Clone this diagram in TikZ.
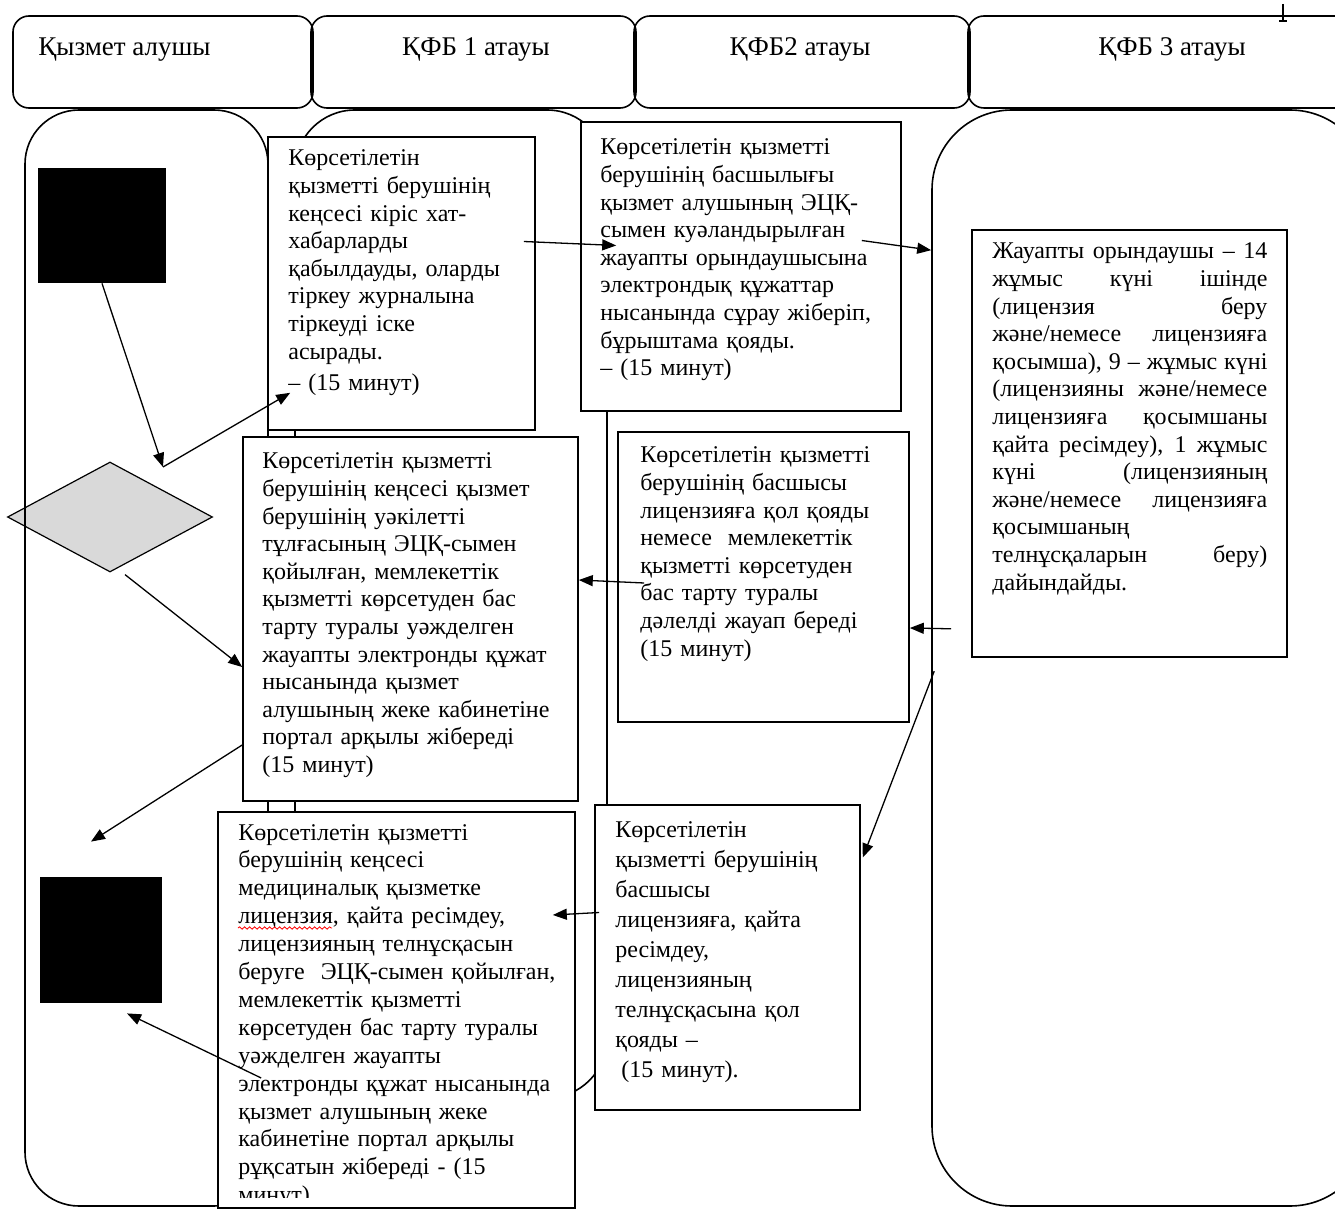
\documentclass[tikz,border=0pt]{standalone}
\usepackage{fontspec}
\setmainfont{Liberation Serif}
\usepackage{tikz}
\usetikzlibrary{shapes.geometric, arrows.meta, calc, fit, decorations.pathmorphing}

\newcommand{\justline}[1]{\makebox[137.5pt][s]{\spaceskip=.25em plus 1fil\relax #1}\\}

\begin{document}
\begin{tikzpicture}[x=0.5pt, y=-0.5pt,
    lane/.style={draw, line width=0.8pt, inner sep=0pt},
    head/.style={draw, line width=0.8pt, inner sep=0pt, rounded corners=8pt},
    headtxt/.style={anchor=base, inner sep=0pt, font=\fontsize{13.5}{15}\selectfont},
    stepbox/.style={draw, fill=white, line width=0.8pt, inner sep=0pt},
    blk/.style={fill=black, inner sep=0pt},
    txt/.style={anchor=base west, inner sep=0pt, align=left, font=\fontsize{12}{13.8}\selectfont},
    arr/.style={-{Triangle[length=7pt, width=5.5pt]}, line width=0.65pt}]

\path[use as bounding box, clip] (0,0) rectangle (1335,1209);

% decision, under the lane line
\node[diamond, draw, fill=black!15, line width=0.6pt, inner sep=0pt,
      minimum width=102.5pt, minimum height=55pt] (dec) at (110,517) {};

% lanes
\node[lane, rounded corners=27pt, fit={(25,110) (268,1206)}] (L1) {};
\node[lane, rounded corners=30pt, fit={(295,110) (607,1098)}] (L2) {};
\node[lane, rounded corners=40pt, fit={(932,110) (1370,1206)}] (L4) {};

\node[head, fit={(13,16) (313,108)}] (h1) {};
\node[head, fit={(311,16) (636,108)}] (h2) {};
\node[head, fit={(634,16) (970,108)}] (h3) {};
\node[head, fit={(968,16) (1385,108)}] (h4) {};
\node[headtxt, anchor=base west] (t1) at (38,56) {Қызмет алушы};
\node[headtxt] (t2) at (476,56) {ҚФБ 1 атауы};
\node[headtxt] (t3) at (800,56) {ҚФБ2 атауы};
\node[headtxt] (t4) at (1172,56) {ҚФБ 3 атауы};
\draw[line width=0.6pt] (1283,4) -- (1283,21);
\draw[line width=0.6pt] (1279,21) -- (1287,21);

\node[blk, fit={(38,168) (166,283)}] (start) {};
\node[blk, fit={(40,877) (162,1003)}] (stop) {};
\coordinate (P) at (163,467);

\node[stepbox, fit={(268,137) (535,430)}] (boxA) {};
\node[txt, text width=122pt] (tA) at (288,166) {Көрсетілетін\\ қызметті берушінің\\ кеңсесі кіріс хат-\\
    хабарларды\\ қабылдауды, оларды\\ тіркеу журналына\\ тіркеуді іске\\ асырады.\\[2pt]
    – (15 минут)};

\node[stepbox, fit={(581,122) (901,411)}] (boxB) {};
\node[txt, text width=150pt] (tB) at (600,155) {Көрсетілетін қызметті\\ берушінің басшылығы\\ қызмет алушының ЭЦҚ-\\
    сымен куәландырылған\\ жауапты орындаушысына\\ электрондық құжаттар\\
    нысанында сұрау жіберіп,\\ бұрыштама қояды.\\ – (15 минут)};

\node[stepbox, fit={(972,230) (1287,657)}] (boxC) {};
\node[txt, text width=137.5pt] (tC) at (992,259) {\justline{Жауапты орындаушы – 14}
    \justline{жұмыс күні ішінде}\justline{(лицензия беру}\justline{және/немесе лицензияға}
    \justline{қосымша), 9 – жұмыс күні}\justline{(лицензияны және/немесе}
    \justline{лицензияға қосымшаны}\justline{қайта ресімдеу), 1 жұмыс}
    \justline{күні (лицензияның}\justline{және/немесе лицензияға}қосымшаның\\
    \justline{телнұсқаларын беру)}дайындайды.};

\node[stepbox, fit={(243,437) (578,801)}] (boxD) {};
\node[txt, text width=155pt] (tD) at (262,469) {Көрсетілетін қызметті\\ берушінің кеңсесі қызмет\\
    берушінің уәкілетті\\ тұлғасының ЭЦҚ-сымен\\ қойылған, мемлекеттік\\
    қызметті көрсетуден бас\\ тарту туралы уәжделген\\ жауапты электронды құжат\\
    нысанында қызмет\\ алушының жеке кабинетіне\\ портал арқылы жібереді\\ (15 минут)};

\node[stepbox, fit={(618,432) (909,722)}] (boxE) {};
\node[txt, text width=132pt] (tE) at (640,463) {Көрсетілетін қызметті\\ берушінің басшысы\\
    лицензияға қол қояды\\ немесе \ мемлекеттік\\ қызметті көрсетуден\\
    бас тарту туралы\\ дәлелді жауап береді\\ (15 минут)};

\node[stepbox, fit={(218,812) (575,1208)}] (boxF) {};
\begin{scope}
\clip (220,814) rectangle (573,1197);
\node[txt, text width=166pt, font=\fontsize{12}{13.95}\selectfont] (tF) at (238,840) {Көрсетілетін қызметті\\
    берушінің кеңсесі\\ медициналық қызметке\\ лицензия, қайта ресімдеу,\\
    лицензияның телнұсқасын\\ беруге \ ЭЦҚ-сымен қойылған,\\ мемлекеттік қызметті\\
    көрсетуден бас тарту туралы\\ уәжделген жауапты\\ электронды құжат нысанында\\
    қызмет алушының жеке\\ кабинетіне портал арқылы\\ рұқсатын жібереді - (15\\ минут)};
\end{scope}
\draw[red, line width=0.4pt, decorate, decoration={snake, amplitude=0.6pt, segment length=2.5pt}]
    (238,928) -- (332,928);

\node[stepbox, fit={(595,805) (860,1110)}] (boxG) {};
\node[txt, text width=120pt, font=\fontsize{12}{15}\selectfont] (tG) at (615,837) {Көрсетілетін\\
    қызметті берушінің\\ басшысы\\ лицензияға, қайта\\ ресімдеу,\\ лицензияның\\
    телнұсқасына қол\\ қояды –\\ \hspace*{3pt}(15 минут).};

\draw[arr] (start.south) -- (P);
\draw[arr] (P) -- ($(boxA.south west)+(23,-38)$);
\draw[arr] ($(boxA.east)+(-12,-42)$) -- ($(boxB.west)+(36,-21)$);
\draw[arr] ($(boxB.east)+(-40,-26)$) -- ($(L4.north west)+(0,141)$);
\draw[arr] ($(boxC.south west)+(-20,-29)$) -- ($(boxE.east)+(0,51)$);
\draw[arr] ($(boxE.west)+(27,6)$) -- ($(boxD.east)+(0,-39)$);
\draw[arr] ($(dec.south)+(15,2)$) -- ($(boxD.west)+(0,48)$);
\draw[arr] ($(boxD.west)+(0,126)$) -- ($(stop.north)+(-10,-35)$);
\draw[arr] ($(L4.north west)+(3,562)$) -- ($(boxG.east)+(2,-100)$);
\draw[arr] ($(boxG.west)+(5,-45)$) -- ($(boxF.east)+(-23,-95)$);
\draw[arr] ($(boxF.west)+(44,68)$) -- ($(stop.south)+(26,10)$); % back to the end
\end{tikzpicture}
\end{document}
